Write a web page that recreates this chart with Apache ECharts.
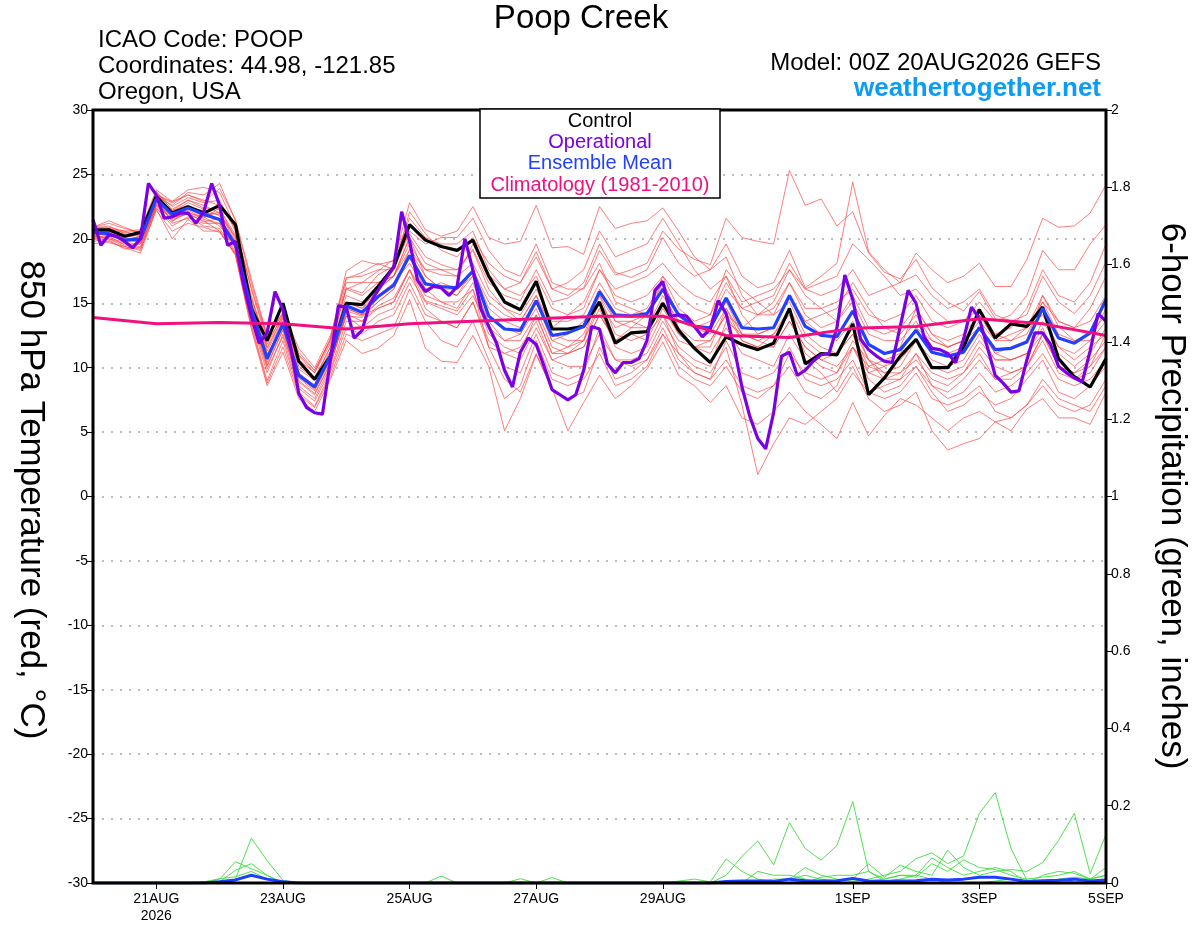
<!DOCTYPE html>
<html>
<head>
<meta charset="utf-8">
<script src="https://cdn.jsdelivr.net/npm/echarts@6/dist/echarts.min.js"></script>
<style>
  html, body { margin: 0; padding: 0; background: #fff; }
  #chart { width: 1200px; height: 927px; }
</style>
</head>
<body>
<div id="chart"></div>
<script>
// 6-hourly steps from 00Z 20AUG (hour 0) to 00Z 5SEP (hour 384)
var tickHours = [24, 72, 120, 168, 216, 288, 336, 384];
var tickLabels = ['21AUG\n2026', '23AUG', '25AUG', '27AUG', '29AUG', '1SEP', '3SEP', '5SEP'];
var tempTicks = [-30, 30, 5];
var precipTicks = [0, 2, 0.2];

// 850 hPa temperature, control run (6h)
var control = [20.7,20.7,20.2,20.5, 23.3,22.0,22.5,22.0, 22.6,21.1,14.6,12.1, 15.0,10.5,9.1,10.9,
  15.0,14.9,16.3,17.8, 21.1,19.9,19.4,19.1, 19.9,17.1,15.1,14.5, 16.7,13.0,13.0,13.2,
  15.1,11.9,12.7,12.8, 15.0,12.9,11.5,10.4, 12.4,11.8,11.4,11.9, 14.6,10.3,11.1,11.0,
  13.4,7.9,9.2,10.9, 12.2,10.0,10.0,11.6, 14.5,12.3,13.4,13.2, 14.7,10.7,9.3,8.5, 10.7];

// ensemble mean (6h)
var ensMean = [20.5,20.4,19.9,20.0, 23.1,21.9,22.4,21.9, 21.5,19.5,14.6,10.7, 13.4,9.4,8.5,10.9,
  14.8,14.3,15.5,16.4, 18.7,16.5,16.3,16.2, 17.5,14.0,13.0,12.9, 15.2,12.5,12.7,13.2,
  15.9,14.1,14.0,14.2, 16.1,14.1,13.2,13.1, 15.4,13.1,13.0,13.1, 15.6,13.2,12.5,12.4,
  14.4,11.8,11.1,11.4, 12.9,11.2,10.9,11.2, 13.1,11.4,11.5,12.0, 14.6,12.3,11.9,12.7, 15.3];

// operational run (3h)
var operational = [21.5,19.5,20.3,20.2,19.8,19.3,20.0,24.3,
  23.4,21.6,21.7,22.0,22.0,21.2,22.1,24.3,
  22.6,19.5,19.8,16.5,14.0,11.9,12.7,15.9,
  14.5,11.5,8.0,6.9,6.5,6.4,10.6,14.8,
  14.7,12.3,12.9,15.0,16.0,16.9,17.8,22.1,
  19.8,16.8,15.9,16.3,16.2,15.6,16.3,20.0,
  17.6,14.6,13.2,11.9,9.8,8.5,11.2,12.3,
  11.8,10.1,8.3,7.9,7.5,7.9,9.8,13.2,
  13.0,10.3,9.6,10.4,10.4,10.7,12.1,16.0,
  16.7,14.0,14.1,14.0,13.2,12.4,13.0,15.2,
  14.2,11.6,8.5,6.2,4.5,3.7,6.5,10.9,
  11.2,9.4,9.8,10.5,11.0,11.1,13.1,17.2,
  15.3,12.2,11.4,10.9,10.5,10.4,13.2,16.0,
  15.0,12.4,11.5,11.4,11.1,10.4,12.2,14.7,
  13.8,11.6,9.4,8.8,8.1,8.2,10.6,12.7,
  12.7,11.8,10.1,9.6,9.2,8.9,11.3,14.2,
  13.6];

// 1981-2010 climatology (daily)
var climatology = [13.9,13.4,13.5,13.4,13.0,13.4,13.6,13.8,14.0,14.0,12.5,12.35,13.05,13.2,13.8,13.4,12.5];

// ensemble members (6h)
var m1 = [20.8,21.0,20.4,20.3, 23.6,22.5,23.2,22.8, 23.0,20.6,15.6,11.6, 13.9,10.4,9.2,11.6, 16.2,15.8,17.2,17.9, 20.4,18.6,18.0,17.6, 19.2,16.6,15.6,15.2, 17.6,15.1,15.4,16.2, 19.1,17.2,17.6,18.1, 20.6,19.2,18.4,18.0, 21.6,20.1,19.8,19.6, 25.3,22.6,23.1,21.0, 22.1,18.9,17.4,16.9, 18.4,16.2,15.1,14.4, 15.9,13.8,13.4,13.1, 15.6,13.2,12.1,12.6, 14.1];
var m2 = [20.2,20.5,20.0,19.7, 22.8,21.4,22.0,21.7, 22.1,19.7,14.1,10.1, 12.9,8.6,7.6,10.1, 14.4,14.0,15.1,16.1, 19.2,17.6,17.2,17.1, 19.6,17.2,16.1,16.6, 19.0,16.1,15.6,16.6, 19.6,17.4,17.0,17.6, 20.1,18.1,17.1,17.6, 19.6,17.1,16.2,16.6, 19.1,16.2,17.1,18.1, 24.4,19.0,17.6,16.6, 17.2,15.6,14.6,15.1, 16.1,14.1,13.6,14.1, 17.1,15.1,14.2,15.6, 18.2];
var m3 = [20.5,20.6,20.2,20.3, 23.0,22.1,22.8,22.3, 21.8,19.2,14.4,10.4, 13.6,9.6,8.6,11.1, 15.1,14.6,15.6,16.3, 18.6,16.1,15.1,14.6, 16.6,13.6,12.1,12.6, 15.1,12.1,11.6,12.1, 15.1,13.1,13.6,13.1, 15.6,13.6,13.1,13.6, 16.1,14.6,15.1,15.6, 18.1,16.1,15.6,16.1, 17.6,15.6,16.1,16.6, 18.9,17.6,16.6,17.1, 18.1,16.3,16.3,18.4, 21.6,20.9,21.0,22.0, 24.2];
var m4 = [20.0,20.2,19.5,19.6, 22.4,21.0,21.7,21.0, 20.8,18.9,13.4,9.0, 12.1,8.1,7.0,9.6, 13.1,12.6,13.6,14.1, 16.6,14.1,13.6,13.1, 15.1,12.1,11.1,10.6, 13.1,10.6,10.1,10.1, 12.6,10.6,10.1,10.6, 12.6,11.1,10.1,9.6, 11.6,7.1,1.7,4.1, 6.1,5.6,6.6,7.6, 9.6,8.1,8.6,9.1, 11.1,9.6,9.1,9.6, 11.6,10.1,9.6,10.1, 12.6,11.1,10.1,11.1, 13.1];
var m5 = [20.3,20.0,19.6,19.3, 22.7,21.6,22.1,21.5, 21.2,19.0,14.2,10.2, 13.0,9.0,8.0,10.4, 14.2,13.6,14.8,15.4, 17.6,15.2,14.8,14.4, 16.1,12.6,11.6,11.1, 14.1,11.1,11.1,11.6, 14.1,12.1,12.6,12.1, 14.6,12.6,11.6,11.1, 13.1,11.1,10.6,10.1, 12.6,10.6,9.6,8.1, 10.1,7.6,6.6,7.1, 8.1,5.1,3.6,4.1, 4.5,5.8,5.1,6.8, 7.6,6.1,6.1,5.6, 8.1];
var m6 = [20.9,21.4,20.9,20.4, 23.3,22.6,23.6,23.4, 24.3,21.4,16.6,12.4, 14.2,11.2,9.8,12.2, 17.5,18.3,18.0,18.3, 22.8,20.7,20.2,20.6, 22.5,20.1,19.6,19.8, 22.6,19.3,19.4,18.8, 22.5,20.8,21.2,21.4, 22.4,20.6,18.6,17.6, 18.6,15.6,14.1,14.6, 16.6,14.1,13.1,13.6, 15.6,13.1,12.6,13.1, 14.6,12.6,12.1,12.6, 14.1,12.1,12.1,12.6, 15.1,13.6,13.1,13.6, 15.6];
var m7 = [19.6,19.8,19.3,18.9, 22.3,20.0,21.5,20.6, 20.6,18.7,13.0,8.6, 11.2,7.6,6.6,9.1, 12.1,11.1,11.5,12.5, 15.3,11.5,10.5,10.4, 12.5,10.1,5.1,7.6, 11.0,8.4,5.1,7.3, 9.4,7.6,8.6,9.9, 12.0,9.4,8.6,7.3, 8.6,6.1,5.6,6.6, 8.1,6.6,5.6,4.5, 7.3,4.7,6.3,7.6, 7.1,6.1,5.1,6.1, 6.6,5.8,6.1,7.1, 8.6,7.1,6.6,7.1, 9.1];
var m8 = [20.6,20.9,20.6,20.1, 23.4,22.9,23.8,24.0, 23.6,20.9,16.1,12.0, 14.0,10.9,9.6,11.9, 16.6,16.6,17.5,18.4, 21.6,20.1,19.6,19.6, 20.6,17.6,16.1,15.6, 17.1,14.6,14.1,14.6, 17.6,15.6,15.1,15.6, 17.1,14.6,13.6,14.1, 16.6,14.6,14.1,14.1, 16.6,14.6,14.6,15.1, 16.1,14.1,13.6,14.1, 15.6,13.6,13.1,13.6, 15.1,13.6,14.1,15.6, 19.1,17.6,17.6,19.6, 21.1];
var m9 = [20.1,19.9,19.2,19.4, 22.6,21.8,22.4,22.2, 21.4,19.6,14.8,11.0, 13.2,9.2,8.2,10.6, 14.0,13.1,14.1,14.6, 17.1,15.1,14.6,14.1, 15.6,13.1,10.1,9.6, 12.6,9.6,9.1,9.6, 13.1,10.6,10.6,11.1, 13.6,11.6,10.6,10.1, 13.6,12.6,12.1,11.6, 13.6,11.6,10.6,10.1, 11.6,9.6,9.1,9.6, 11.1,8.6,7.6,8.1, 9.6,8.1,8.6,9.6, 11.1,9.1,8.6,9.1, 10.6];
var m10 = [20.4,20.3,19.8,19.9, 23.2,22.2,22.6,22.0, 21.9,20.1,15.1,11.3, 13.6,9.9,9.0,11.3, 15.6,15.1,16.1,17.1, 19.6,17.6,17.6,17.1, 18.1,15.6,14.6,14.1, 16.1,13.6,13.6,14.1, 16.6,14.6,14.1,14.6, 16.6,14.1,13.1,13.1, 15.1,12.6,12.1,12.6, 14.6,12.1,11.1,11.1, 13.1,10.6,10.1,10.6, 12.1,10.6,10.1,10.6, 12.6,10.6,10.6,11.1, 13.6,11.6,11.1,12.1, 14.6];
var m11 = [20.7,20.4,19.9,20.2, 23.1,21.3,22.4,21.7, 21.0,19.4,14.3,10.6, 13.3,9.4,8.7,11.1, 14.6,14.1,15.6,16.6, 18.1,16.1,16.6,16.1, 17.1,13.1,12.1,12.1, 14.1,11.1,11.6,12.6, 15.6,12.6,12.1,12.6, 14.1,11.1,9.6,9.1, 10.6,8.6,8.1,8.6, 10.1,8.1,7.6,8.6, 11.6,10.1,10.6,11.1, 13.1,12.1,11.6,12.1, 13.6,12.1,12.6,13.1, 15.1,12.6,12.1,12.1, 13.6];
var m12 = [20.3,20.6,20.1,19.9, 22.9,22.0,22.2,21.6, 22.4,19.9,14.6,10.9, 13.5,9.6,8.4,10.9, 15.1,14.6,16.1,17.1, 20.1,18.1,17.6,17.6, 19.1,16.1,14.6,13.6, 15.6,12.6,12.1,12.1, 16.1,13.6,13.1,13.1, 15.1,12.6,11.6,11.6, 14.6,12.6,12.6,13.1, 15.6,13.6,12.6,12.1, 13.6,10.6,9.6,10.1, 12.1,10.1,9.6,10.1, 12.1,10.6,10.6,11.1, 13.1,10.1,9.1,9.6, 11.6];
var m13 = [20.6,20.7,20.5,20.6, 23.7,22.2,23.0,22.6, 22.0,20.2,15.4,11.8, 14.1,10.6,9.6,12.3, 17.0,17.1,17.6,17.6, 20.6,19.6,20.1,20.1, 21.6,19.1,17.6,17.1, 19.6,16.6,16.1,16.1, 18.1,15.1,14.6,14.1, 16.1,13.1,12.1,12.1, 14.1,13.1,14.1,15.1, 17.6,16.1,16.6,17.1, 19.6,18.4,17.1,15.6, 16.1,14.6,13.6,13.6, 14.6,12.6,12.1,13.1, 14.1,11.6,10.6,11.6, 12.6];
var m14 = [20.0,19.7,19.4,19.1, 22.5,21.2,21.6,21.2, 21.2,19.3,13.9,9.9, 12.4,8.4,7.4,9.8, 13.6,13.6,14.6,15.1, 17.6,15.6,15.1,15.1, 16.1,11.6,9.1,8.1, 11.1,8.3,7.6,8.1, 11.6,9.1,9.6,10.6, 13.1,10.6,9.6,9.1, 12.1,9.6,9.1,9.6, 11.6,9.1,8.6,9.1, 10.6,8.1,7.6,8.1, 9.6,7.6,7.1,7.6, 8.6,6.6,6.1,7.1, 9.1,7.6,7.1,6.6, 8.6];
var m15 = [20.9,21.2,20.8,20.5, 23.4,22.8,23.4,23.0, 22.6,20.8,16.2,12.3, 14.2,11.0,9.8,12.1, 16.1,16.6,16.6,17.1, 19.1,17.1,16.1,15.6, 17.6,15.1,14.1,13.6, 15.6,13.1,14.1,15.1, 17.6,16.1,16.6,17.1, 18.1,16.6,15.6,15.1, 17.1,15.1,15.6,16.1, 17.6,15.6,14.6,13.6, 15.1,12.6,12.1,12.1, 13.6,11.6,11.1,11.6, 13.1,11.1,11.6,12.1, 15.6,13.6,13.1,14.6, 17.1];
var m16 = [20.2,20.1,19.7,19.6, 22.9,21.7,21.9,21.4, 20.6,18.8,13.6,9.6, 12.6,8.9,7.9,10.3, 14.0,13.9,15.1,16.1, 18.6,16.6,16.1,16.1, 17.6,14.6,13.6,13.1, 15.1,12.1,12.6,13.6, 15.6,13.6,13.6,14.1, 16.6,14.1,13.1,12.6, 14.6,12.1,11.6,11.6, 13.6,11.6,10.6,11.1, 12.6,10.1,9.6,9.6, 10.6,9.1,8.6,9.6, 11.1,9.1,9.6,10.1, 12.6,10.1,9.6,10.6, 12.1];
var m17 = [21.0,20.8,20.6,20.7, 23.8,22.9,23.4,22.9, 23.9,21.5,16.9,12.5, 14.3,11.5,10.0,12.5, 16.9,17.4,18.1,17.6, 22.1,20.4,19.1,18.6, 20.1,18.1,17.1,16.6, 18.6,16.1,16.6,17.6, 20.6,18.6,19.1,19.6, 21.6,19.6,17.6,16.1, 17.1,14.1,12.6,13.1, 15.6,13.6,14.1,14.6, 16.6,14.6,13.1,12.6, 14.1,12.1,11.6,12.1, 14.1,12.6,13.1,14.6, 17.6,15.6,15.1,16.6, 19.6];
var m18 = [19.8,20.0,19.4,19.2, 22.2,20.6,21.2,20.9, 20.5,18.8,13.2,8.8, 11.6,7.9,6.9,9.3, 12.6,12.1,12.6,13.1, 16.1,13.6,12.1,11.6, 13.6,10.6,7.6,8.6, 12.1,9.1,8.6,9.1, 11.1,8.6,9.1,10.1, 12.6,10.1,9.1,8.6, 10.1,8.1,7.6,8.6, 11.1,9.6,9.1,9.6, 12.1,10.6,9.1,9.1, 10.1,8.1,6.6,7.1, 8.1,7.1,7.6,9.1, 10.6,8.1,7.6,8.6, 10.1];
var m19 = [20.4,20.8,20.3,20.0, 23.5,22.3,23.0,22.4, 22.3,20.3,15.3,11.5, 13.8,10.1,9.1,11.6, 16.1,15.6,16.6,17.1, 20.1,17.1,16.1,15.6, 17.1,14.1,13.1,12.6, 14.6,11.6,11.1,11.6, 14.1,12.1,13.1,14.1, 17.1,15.6,14.6,14.1, 17.6,16.1,15.1,14.1, 15.1,12.6,11.6,11.1, 12.6,9.6,10.1,11.6, 14.6,12.6,11.6,12.1, 13.1,11.1,10.6,11.1, 12.6,10.1,9.6,10.1, 12.6];
var m20 = [20.1,20.3,19.9,19.8, 22.6,21.5,22.0,21.3, 21.6,19.8,14.9,11.1, 13.1,9.3,8.3,10.7, 14.6,14.1,14.6,15.1, 17.6,14.6,13.6,13.1, 15.1,11.6,11.1,11.6, 13.6,10.6,11.1,12.1, 14.6,11.6,11.1,11.6, 14.1,12.1,11.6,12.1, 14.1,12.1,11.6,12.6, 14.1,11.1,10.1,9.6, 11.6,9.1,8.1,8.6, 10.1,8.6,8.1,9.1, 10.6,9.1,9.1,10.1, 12.1,9.6,9.1,10.1, 11.6];
var members = [m1, m2, m3, m4, m5, m6, m7, m8, m9, m10, m11, m12, m13, m14, m15, m16, m17, m18, m19, m20];

// 6-hour precipitation (inches), members and mean
var p1 = [0,0,0,0, 0,0,0,0.003, 0.005,0.01,0.116,0.058, 0.007,0,0,0, 0,0,0,0, 0,0,0,0, 0,0,0,0, 0,0,0,0, 0,0,0,0, 0,0,0,0, 0.02,0.069,0.109,0.047, 0.156,0.089,0.059,0.097, 0.211,0.03,0.005,0.01, 0.02,0.01,0,0, 0,0.005,0.01,0, 0,0,0.005,0, 0];
var p2 = [0,0,0,0, 0,0,0,0, 0.01,0.055,0.037,0.02, 0,0,0,0, 0,0,0,0, 0,0,0,0, 0,0,0,0, 0,0,0,0, 0,0,0,0, 0,0.005,0.01,0.003, 0.062,0.03,0.01,0.005, 0.01,0.04,0.02,0.01, 0.005,0.01,0.02,0.03, 0.063,0.078,0.05,0.07, 0.18,0.234,0.089,0.007, 0.005,0.01,0.015,0.01, 0.02];
var p3 = [0,0,0,0, 0,0,0,0, 0.003,0.033,0.05,0.02, 0,0,0,0, 0,0,0,0, 0,0,0.018,0, 0,0,0,0, 0,0,0,0, 0,0,0,0, 0,0,0,0, 0,0,0.005,0.01, 0.01,0.02,0.01,0.005, 0.01,0.05,0.015,0.046, 0.03,0.02,0.085,0.04, 0.02,0.03,0.035,0.03, 0.053,0.11,0.18,0.024, 0.126];
var p4 = [0,0,0,0, 0,0,0,0.003, 0.011,0.016,0.03,0.01, 0,0,0,0, 0,0,0,0, 0,0,0,0, 0,0,0,0.011, 0,0.014,0,0, 0,0,0,0, 0,0,0,0, 0,0,0.03,0.02, 0.02,0.01,0,0.005, 0.01,0.005,0.01,0.02, 0.02,0.065,0.04,0.02, 0.03,0.04,0.03,0, 0.02,0.03,0.025,0.01, 0.04];
var p5 = [0,0,0,0, 0,0,0,0, 0,0,0,0, 0,0,0,0, 0,0,0,0, 0,0,0,0, 0,0,0,0, 0,0,0,0, 0,0,0,0, 0,0,0,0, 0,0,0,0, 0,0,0.015,0.02, 0.02,0.03,0.01,0.02, 0.015,0.05,0.03,0.06, 0.04,0.035,0.02,0.01, 0.015,0.02,0.03,0.01, 0.02];
var precipMembers = [p1, p2, p3, p4, p5];
var precipMean = [0,0,0,0, 0,0,0,0, 0.003,0.008,0.02,0.01, 0.003,0,0,0, 0,0,0,0, 0,0,0,0, 0,0,0,0, 0,0,0,0, 0,0,0,0, 0,0,0,0, 0.004,0.005,0.005,0.004, 0.01,0.006,0.005,0.006, 0.012,0.005,0.004,0.005, 0.006,0.01,0.008,0.01, 0.015,0.015,0.01,0.004, 0.006,0.007,0.01,0.005, 0.008];

var FONT = '"Liberation Sans", Helvetica, Arial, sans-serif';

function pairs(arr, step) {
  return arr.map(function (v, i) { return [i * step, v]; });
}

var series = [];
members.forEach(function (m, k) {
  series.push({
    name: 'member' + (k + 1), type: 'line', yAxisIndex: 0, symbol: 'none',
    data: pairs(m, 6), lineStyle: { color: '#ff4040', width: 0.8, opacity: 0.85 }, z: 2, silent: true
  });
});
precipMembers.forEach(function (p, k) {
  series.push({
    name: 'precip' + (k + 1), type: 'line', yAxisIndex: 1, symbol: 'none',
    data: pairs(p, 6), lineStyle: { color: '#3ddc3d', width: 0.9 }, z: 2, silent: true
  });
});
series.push({ name: 'Precip Mean', type: 'line', yAxisIndex: 1, symbol: 'none',
  data: pairs(precipMean, 6), lineStyle: { color: '#1f3dff', width: 3 }, z: 3 });
series.push({ name: 'Control', type: 'line', yAxisIndex: 0, symbol: 'none',
  data: pairs(control, 6), lineStyle: { color: '#000000', width: 3.2 }, z: 4 });
series.push({ name: 'Ensemble Mean', type: 'line', yAxisIndex: 0, symbol: 'none',
  data: pairs(ensMean, 6), lineStyle: { color: '#2140ff', width: 3.2 }, z: 5 });
series.push({ name: 'Operational', type: 'line', yAxisIndex: 0, symbol: 'none',
  data: pairs(operational, 3), lineStyle: { color: '#7a00e6', width: 3.2 }, z: 6 });
series.push({ name: 'Climatology', type: 'line', yAxisIndex: 0, symbol: 'none',
  data: pairs(climatology, 24), lineStyle: { color: '#f0107f', width: 3 }, z: 7 });

function txt(text, x, y, size, color, align, extra) {
  var el = {
    type: 'text', x: x, y: y, z: 110,
    style: { text: text, fill: color, font: (extra && extra.bold ? 'bold ' : '') + size + 'px ' + FONT,
      textAlign: align, textVerticalAlign: 'middle' }
  };
  if (extra && extra.rotation) el.rotation = extra.rotation;
  return el;
}

var option = {
  animation: false,
  backgroundColor: '#ffffff',
  grid: { left: 93, top: 110, right: 94, bottom: 44, show: false },
  xAxis: {
    type: 'value', min: 0, max: 384,
    axisLine: { show: false, onZero: false },
    splitLine: { show: false },
    axisTick: { show: true, customValues: tickHours, length: 6, lineStyle: { color: '#000', width: 1 } },
    axisLabel: {
      customValues: tickHours, color: '#000', fontSize: 14, fontFamily: FONT, margin: 8, lineHeight: 17,
      formatter: function (v) { return tickLabels[tickHours.indexOf(v)]; }
    }
  },
  yAxis: [
    {
      type: 'value', position: 'left', min: tempTicks[0], max: tempTicks[1], interval: tempTicks[2],
      axisLine: { show: false },
      axisTick: { show: true, length: 6, lineStyle: { color: '#000', width: 1 } },
      axisLabel: { color: '#000', fontSize: 14, fontFamily: FONT, margin: 5 },
      splitLine: { show: true, lineStyle: { color: '#a8a8a8', width: 1.5, type: [2, 7] } }
    },
    {
      type: 'value', position: 'right', min: precipTicks[0], max: precipTicks[1], interval: precipTicks[2],
      axisLine: { show: false },
      axisTick: { show: true, length: 6, lineStyle: { color: '#000', width: 1 } },
      axisLabel: { color: '#000', fontSize: 14, fontFamily: FONT, margin: 5 },
      splitLine: { show: false }
    }
  ],
  series: series,
  graphic: [
    { type: 'rect', z: 100, shape: { x: 93, y: 110, width: 1013, height: 773 },
      style: { fill: 'none', stroke: '#000', lineWidth: 3 }, silent: true },
    { type: 'rect', z: 105, shape: { x: 480, y: 109, width: 240, height: 89 },
      style: { fill: '#fff', stroke: '#000', lineWidth: 1.5 }, silent: true },
    txt('Control', 600, 121, 20, '#000', 'center'),
    txt('Operational', 600, 142, 20, '#7a00e6', 'center'),
    txt('Ensemble Mean', 600, 163, 20, '#2140ff', 'center'),
    txt('Climatology (1981-2010)', 600, 185, 20, '#f0107f', 'center'),
    txt('Poop Creek', 581, 19, 33, '#000', 'center'),
    txt('ICAO Code: POOP', 98, 40, 24, '#000', 'left'),
    txt('Coordinates: 44.98, -121.85', 98, 66, 24, '#000', 'left'),
    txt('Oregon, USA', 98, 92, 24, '#000', 'left'),
    txt('Model: 00Z 20AUG2026 GEFS', 1101, 63, 24, '#000', 'right'),
    txt('weathertogether.net', 1101, 89, 26, '#0b9cf5', 'right', { bold: true }),
    txt('850 hPa Temperature (red, \u00b0C)', 31, 500, 35, '#000', 'center', { rotation: -Math.PI / 2 }),
    txt('6-hour Precipitation (green, inches)', 1172, 496, 35, '#000', 'center', { rotation: -Math.PI / 2 })
  ]
};

var chart = echarts.init(document.getElementById('chart'), null, { renderer: 'canvas' });
chart.setOption(option);
</script>
</body>
</html>
